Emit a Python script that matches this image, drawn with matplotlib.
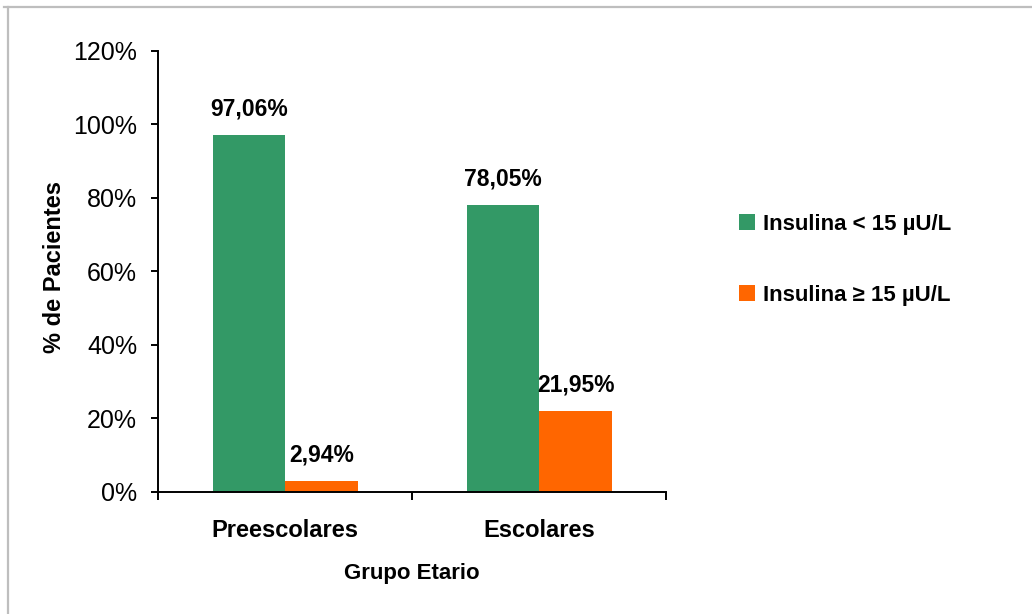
import matplotlib
matplotlib.use("Agg")
import matplotlib.pyplot as plt
from matplotlib.patches import Patch
from matplotlib.lines import Line2D
import numpy as np

plt.rcParams['font.family'] = ['Liberation Sans', 'DejaVu Sans']

categories = ["Preescolares", "Escolares"]
series_names = ["Insulina < 15 µU/L", "Insulina ≥ 15 µU/L"]
below_15 = [97.06, 78.05]
above_15 = [2.94, 21.95]
y_ticks = [0, 20, 40, 60, 80, 100, 120]

colors = ["#339966", "#FF6600"]

fig = plt.figure(figsize=(10.32, 6.14), dpi=100)
ax = fig.add_axes([0.1531, 0.1992, 0.4922, 0.7182])

x = np.arange(len(categories))
w = 0.287
bars1 = ax.bar(x - w / 2 + 0.002, below_15, width=w, color=colors[0], label=series_names[0])
bars2 = ax.bar(x + w / 2 + 0.002, above_15, width=w, color=colors[1], label=series_names[1])

def fmt(v):
    return f"{v:.2f}".replace(".", ",") + "%"

for bars, vals in ((bars1, below_15), (bars2, above_15)):
    for b, v in zip(bars, vals):
        ax.annotate(fmt(v), (b.get_x() + b.get_width() / 2, v),
                    xytext=(0, 10.5), textcoords="offset points",
                    ha="center", va="bottom", fontsize=16.5, fontweight="bold")

ax.set_xlim(-0.5, len(categories) - 0.5)
ax.set_ylim(0, 120)
ax.set_yticks(y_ticks)
ax.set_yticklabels([f"{t}%" for t in y_ticks], fontsize=18)
ax.set_xticks(x)
ax.set_xticklabels(categories, fontsize=17, fontweight="bold")
ax.set_xticks(np.arange(-0.5, len(categories), 1.0), minor=True)
ax.tick_params(axis="x", which="major", length=0, pad=20)
ax.tick_params(axis="x", which="minor", length=6, width=1.4, direction="out")
ax.tick_params(axis="y", which="major", length=5, width=1.4, direction="out", pad=10)

for s in ("top", "right"):
    ax.spines[s].set_visible(False)
for s in ("left", "bottom"):
    ax.spines[s].set_linewidth(1.4)

ax.set_ylabel("% de Pacientes", fontsize=17, fontweight="bold")
ax.yaxis.set_label_coords(-0.181, 0.5095)
ax.set_xlabel("Grupo Etario", fontsize=16, fontweight="bold", labelpad=15)

handles = [Patch(facecolor=c, edgecolor="none") for c in colors]
fig.legend(handles, series_names, loc="upper left",
           bbox_to_anchor=(0.716, 0.652), frameon=False,
           prop={"size": 16, "weight": "bold"},
           handlelength=0.72, handleheight=0.72, handletextpad=0.35,
           labelspacing=2.27, borderpad=0, borderaxespad=0)

# light grey frame along the top and left edges
fig.add_artist(Line2D([4 / 1032, 1.0], [1 - 7 / 614, 1 - 7 / 614],
                      transform=fig.transFigure, color="#BEBEBE", linewidth=1.6))
fig.add_artist(Line2D([8 / 1032, 8 / 1032], [0.0, 1 - 7 / 614],
                      transform=fig.transFigure, color="#BEBEBE", linewidth=1.6))

fig.savefig("out.png", dpi=100)
